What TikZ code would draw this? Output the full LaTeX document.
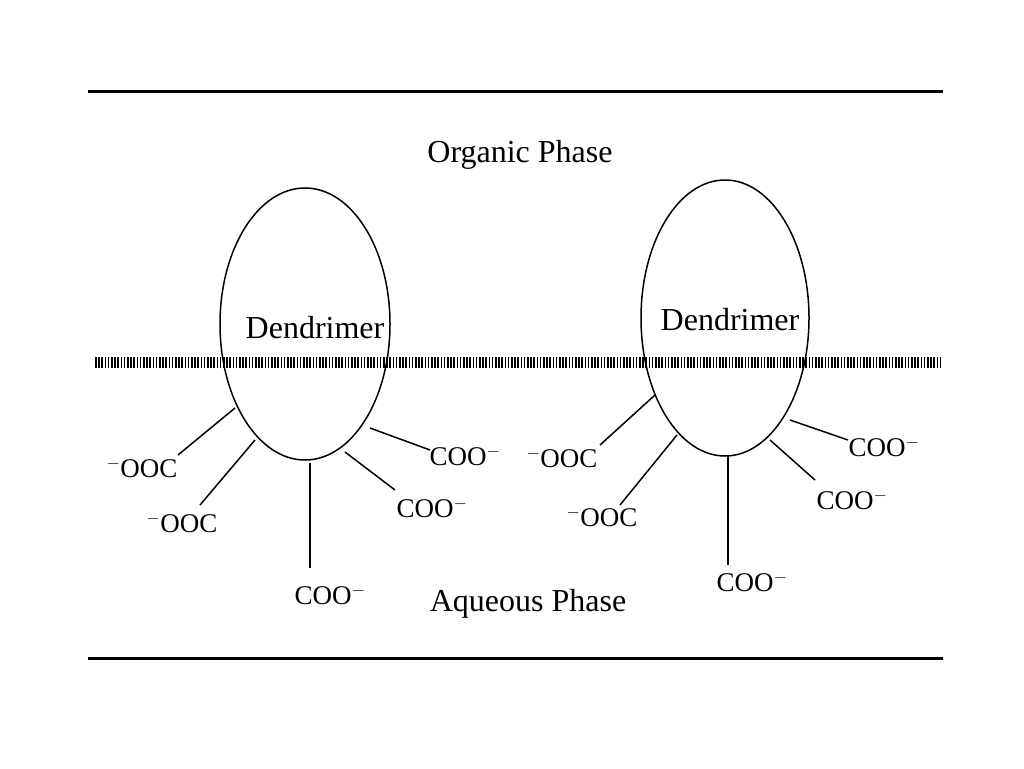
\documentclass[tikz,border=0pt]{standalone}
\usepackage{fontspec}
\setmainfont{Liberation Serif}
\usetikzlibrary{shapes.geometric}
\begin{document}
\begin{tikzpicture}[x=1pt,y=-1pt,
  lab/.style={font=\fontsize{27}{27}\selectfont,inner sep=0pt},
  big/.style={font=\fontsize{32}{32}\selectfont,inner sep=0pt},
  spoke/.style={line width=1.5pt},
  phase/.style={line width=3pt}]
\useasboundingbox (0,0) rectangle (1024,768);
\coordinate (tl) at (88,91); \coordinate (tr) at (943,91);
\coordinate (bl) at (88,658); \coordinate (br) at (943,658);
\draw[phase] (tl) -- (tr);
\draw[phase] (bl) -- (br);
\coordinate (dl) at (95,362); \coordinate (dr) at (942,362);
\draw[line width=11pt,dash pattern=on 1.6pt off 1.6pt] (dl) -- (dr);
\node[big] (org) at (520,155) {Organic Phase};
\node[big] (aq) at (528,604) {Aqueous Phase};
\node[draw,ellipse,line width=1.5pt,minimum width=170pt,minimum height=272pt,inner sep=0pt] (e1) at (305,324) {};
\node[draw,ellipse,line width=1.5pt,minimum width=168pt,minimum height=276pt,inner sep=0pt] (e2) at (725,318) {};
\node[big] (d1) at (315,328) {Dendrimer};
\node[big] (d2) at (730,320) {Dendrimer};
% left
\coordinate (a1) at (235,408); \coordinate (a1e) at (178,455);
\coordinate (a2) at (255,440); \coordinate (a2e) at (200,505);
\coordinate (a3) at (310,463); \coordinate (a3e) at (310,568);
\coordinate (a4) at (345,452); \coordinate (a4e) at (395,490);
\coordinate (a5) at (370,428); \coordinate (a5e) at (430,450);
\foreach \i in {1,...,5} \draw[spoke] (a\i) -- (a\i e);
\node[lab] (l1) at (142,468) {$^{-}$OOC};
\node[lab] (l2) at (182,523) {$^{-}$OOC};
\node[lab] (l3) at (330,595) {COO$^{-}$};
\node[lab] (l4) at (432,508) {COO$^{-}$};
\node[lab] (l5) at (465,456) {COO$^{-}$};
% right
\coordinate (b1) at (655,395); \coordinate (b1e) at (600,445);
\coordinate (b2) at (677,435); \coordinate (b2e) at (620,505);
\coordinate (b3) at (728,455); \coordinate (b3e) at (728,565);
\coordinate (b4) at (770,440); \coordinate (b4e) at (815,480);
\coordinate (b5) at (790,420); \coordinate (b5e) at (848,440);
\foreach \i in {1,...,5} \draw[spoke] (b\i) -- (b\i e);
\node[lab] (m1) at (562,458) {$^{-}$OOC};
\node[lab] (m2) at (602,517) {$^{-}$OOC};
\node[lab] (m3) at (752,582) {COO$^{-}$};
\node[lab] (m4) at (852,500) {COO$^{-}$};
\node[lab] (m5) at (884,447) {COO$^{-}$};
\end{tikzpicture}
\end{document}
